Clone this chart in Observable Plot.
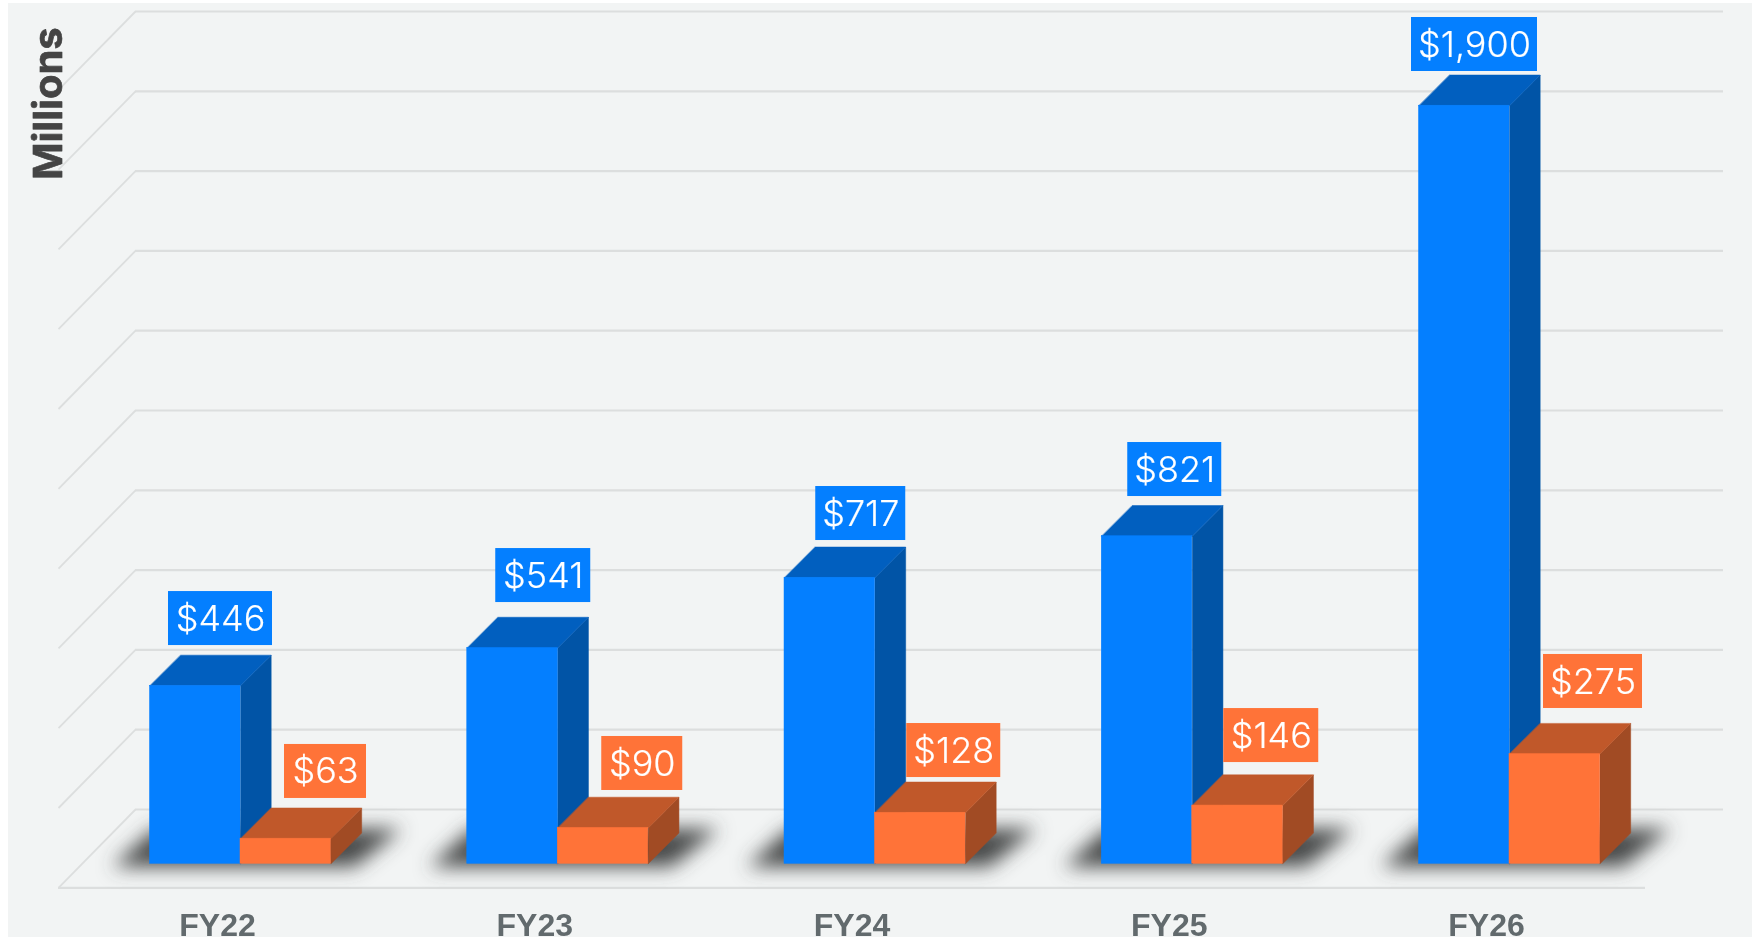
<!DOCTYPE html>
<html>
<head>
<meta charset="utf-8">
<script src="https://cdn.jsdelivr.net/npm/d3@7"></script>
<script src="https://cdn.jsdelivr.net/npm/@observablehq/plot@0.6"></script>
<style>
html,body{margin:0;padding:0;background:#fff;overflow:hidden;width:1752px;height:937px}
#panel{position:absolute;left:8px;top:3px;right:0;bottom:0;background:#f2f4f4}
#chart{position:absolute;left:0;top:0}
#chart svg{display:block;background:transparent;filter:blur(0.35px)}
</style>
</head>
<body>
<div id="panel"></div>
<div id="chart"></div>
<script>
// --- chart data ---
const categories = ["FY22", "FY23", "FY24", "FY25", "FY26"];
const blueValues = [446, 541, 717, 821, 1900];
const orangeValues = [63, 90, 128, 146, 275];
const gridValues = [0, 200, 400, 600, 800, 1000, 1200, 1400, 1600, 1800, 2000];
const axisTitle = "Millions";

// --- layout (pixels) ---
const slotPx = 317.25, unitPx = 0.399;       // scale factors
const barPx = 90.5, depthPx = 30.7;           // bar front width, oblique depth
const backLiftPx = 54.3, frontDropPx = 24;    // floor back/front edge from the bar base
const gridBackPx = -105, gridFrontPx = -182, gridRightPx = 1483, floorRightPx = 1405; // from FY22 joint
const blueBox = {
  dx: [-20, -14.5, -14.25, -17.5, -35],
  dy: [-67.3, -72.4, -64.2, -66.7, -61.2],
  w: [104, 95, 90, 94, 126]
};
const orangeBox = {
  dx: [85, 84.5, 78.75, 79, 83.5],
  dy: [-67.2, -64.4, -62.2, -70, -72.6],
  w: [82, 81, 94, 95, 99]
};
const boxH = 54;

const X = p => p / slotPx, Y = p => p / unitPx;
const colors = {
  blue: {front: "#047fff", top: "#015fbf", side: "#0154a6"},
  orange: {front: "#ff7338", top: "#c0582a", side: "#a14b24"}
};

const bar = (values, offset) => values.map((v, i) => ({
  i, v, x1: i + X(offset * barPx), x2: i + X((offset + 1) * barPx)
}));
const blueBars = bar(blueValues, -1), orangeBars = bar(orangeValues, 0);
const d = {x: X(depthPx), y: Y(depthPx)};

const sidePoly = bars => bars.flatMap(b => [
  {z: b.i, x: b.x2, y: b.v}, {z: b.i, x: b.x2 + d.x, y: b.v + d.y},
  {z: b.i, x: b.x2 + d.x, y: d.y}, {z: b.i, x: b.x2, y: 0}
]);
const topPoly = bars => bars.flatMap(b => [
  {z: b.i, x: b.x1, y: b.v}, {z: b.i, x: b.x2, y: b.v},
  {z: b.i, x: b.x2 + d.x, y: b.v + d.y}, {z: b.i, x: b.x1 + d.x, y: b.v + d.y}
]);
const poly = (rows, fill, extra = {}) =>
  Plot.line(rows, {x: "x", y: "y", z: "z", fill, stroke: fill, strokeWidth: 0.5, curve: "linear-closed", ...extra});
const barMarks = (bars, c) => [
  poly(sidePoly(bars), c.side),
  poly(topPoly(bars), c.top),
  Plot.rect(bars, {x1: "x1", x2: "x2", y1: 0, y2: "v", fill: c.front, stroke: c.front, strokeWidth: 0.5, inset: 0})
];
const boxRows = (bars, box) => bars.map((b, k) => ({
  x: b.i + X(box.dx[k]), y: b.v - Y(box.dy[k]),
  x1: b.i + X(box.dx[k] - box.w[k] / 2), x2: b.i + X(box.dx[k] + box.w[k] / 2),
  y1: b.v - Y(box.dy[k]) - Y(boxH / 2), y2: b.v - Y(box.dy[k]) + Y(boxH / 2),
  text: d3.format("$,")(b.v)
}));
const boxMarks = (rows, fill) => [
  Plot.rect(rows, {x1: "x1", x2: "x2", y1: "y1", y2: "y2", fill}),
  Plot.text(rows, {x: "x", y: "y", text: "text", dy: 0.5, fill: "#fff", stroke: "#fff", strokeWidth: 0.15, fontSize: 36, fontWeight: 300, fontFamily: "Inter", lineAnchor: "middle"})
];
const shadow = categories.flatMap((c, i) => [
  {z: i, x: i + X(-128), y: Y(-3)},
  {z: i, x: i + X(114), y: Y(-3)},
  {z: i, x: i + X(161), y: Y(35)},
  {z: i, x: i + X(-86), y: Y(35)}
]);
const blurred = (index, scales, values, dims, context, next) => {
  const g = next(index, scales, values, dims, context);
  const f = d3.create("svg:filter").attr("id", "floorBlur").attr("filterUnits", "userSpaceOnUse")
    .attr("x", 0).attr("y", 0).attr("width", dims.width).attr("height", dims.height);
  f.append("feGaussianBlur").attr("stdDeviation", 9.5);
  g.appendChild(f.node());
  g.setAttribute("filter", "url(#floorBlur)");
  return g;
};

const chart = Plot.plot({
  width: 1752, height: 937, margin: 0,
  style: {background: "transparent", overflow: "hidden"},
  x: {type: "linear", domain: [-1, 5], range: [240 - slotPx, 240 + 5 * slotPx], axis: null},
  y: {type: "linear", domain: [0, 2000], range: [863.3, 863.3 - 2000 * unitPx], axis: null},
  marks: [
    // back wall, left wall, floor
    Plot.ruleY(gridValues, {y: v => v + Y(backLiftPx), x1: X(gridBackPx), x2: X(gridRightPx), stroke: "#dcdede", strokeWidth: 2.2}),
    Plot.link(gridValues, {x1: X(gridFrontPx), y1: v => v - Y(frontDropPx), x2: X(gridBackPx), y2: v => v + Y(backLiftPx), stroke: "#dcdede", strokeWidth: 1.8}),
    Plot.ruleY([0], {y: -Y(frontDropPx), x1: X(gridFrontPx), x2: X(floorRightPx), stroke: "#dcdede", strokeWidth: 2.2}),
    // floor shadows
    Plot.line(shadow, {x: "x", y: "y", z: "z", fill: "#464848", stroke: "none", curve: "linear-closed", render: blurred}),
    // bars
    ...barMarks(blueBars, colors.blue),
    ...barMarks(orangeBars, colors.orange),
    // value labels
    ...boxMarks(boxRows(blueBars, blueBox), colors.blue.front),
    ...boxMarks(boxRows(orangeBars, orangeBox), colors.orange.front),
    // category axis
    Plot.axisX(categories.map((c, i) => i), {
      anchor: "bottom", tickSize: 0, tickPadding: 0, lineAnchor: "bottom", dx: -23, dy: -2,
      tickFormat: i => categories[i], fontSize: 32, fontWeight: 700, fontFamily: "Liberation Sans", fill: "#626a6d"
    }),
    // axis title
    Plot.text([axisTitle], {
      frameAnchor: "top-left", dx: 48.5, dy: 103, rotate: -90, text: d => d,
      textAnchor: "middle", lineAnchor: "middle", fontSize: 40, fontWeight: 700, fontFamily: "Inter", fill: "#444", stroke: "#444", strokeWidth: 0.7
    })
  ]
});
document.getElementById("chart").appendChild(chart);
</script>
</body>
</html>
